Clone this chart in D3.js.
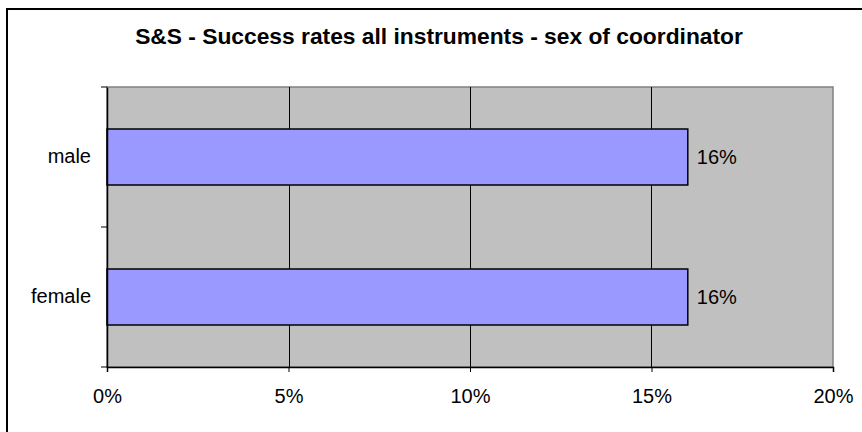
<!DOCTYPE html>
<html>
<head>
<meta charset="utf-8">
<script src="https://cdn.jsdelivr.net/npm/d3@7"></script>
<style>
  html, body { margin: 0; padding: 0; background: #fff; }
  svg { display: block; }
  text { font-family: "Liberation Sans", Arial, sans-serif; fill: #000; }
</style>
</head>
<body>
<svg id="chart" width="862" height="432"></svg>
<script>
const title = "S&S - Success rates all instruments - sex of coordinator";
const categories = ["male", "female"];
const values = [0.16, 0.16];
const valueLabels = ["16%", "16%"];
const xTicks = [0, 0.05, 0.10, 0.15, 0.20];
const xTickLabels = ["0%", "5%", "10%", "15%", "20%"];

const svg = d3.select("#chart");
const plot = { left: 107, top: 87, right: 833, bottom: 367 };

// outer frame (extends past right/bottom edge)
svg.append("rect")
  .attr("x", 7).attr("y", 9).attr("width", 900).attr("height", 500)
  .attr("fill", "#fff").attr("stroke", "#000").attr("stroke-width", 2);

// title
const t = svg.append("text")
  .attr("x", 439).attr("y", 44)
  .attr("text-anchor", "middle")
  .attr("font-size", "22.5px").attr("font-weight", "bold")
  .text(title);
// fit to measured reference width
const tw = t.node().getComputedTextLength();
if (tw > 0) t.attr("font-size", (22.5 * 608 / tw).toFixed(2) + "px");

const x = d3.scaleLinear().domain([0, 0.20]).range([plot.left, plot.right]);
const y = d3.scaleBand().domain(categories).range([plot.top, plot.bottom]).paddingInner(0.6).paddingOuter(0.3);

// plot background
svg.append("rect")
  .attr("x", plot.left).attr("y", plot.top)
  .attr("width", plot.right - plot.left).attr("height", plot.bottom - plot.top)
  .attr("fill", "#C0C0C0").attr("stroke", "#808080").attr("stroke-width", 1.5);

// gridlines
svg.append("g").selectAll("line")
  .data(xTicks.filter(d => d > 0 && d < 0.20))
  .join("line")
  .attr("x1", d => Math.round(x(d)) + 0.5).attr("x2", d => Math.round(x(d)) + 0.5)
  .attr("y1", plot.top).attr("y2", plot.bottom)
  .attr("stroke", "#000").attr("stroke-width", 1);

// bars
svg.append("g").selectAll("rect")
  .data(categories)
  .join("rect")
  .attr("x", x(0))
  .attr("y", d => y(d))
  .attr("width", (d, i) => x(values[i]) - x(0))
  .attr("height", y.bandwidth())
  .attr("fill", "#9999FF").attr("stroke", "#000").attr("stroke-width", 1.5);

// value labels
svg.append("g").selectAll("text")
  .data(categories)
  .join("text")
  .attr("x", (d, i) => x(values[i]) + 9)
  .attr("y", d => y(d) + y.bandwidth() / 2 + 7)
  .attr("font-size", "20px")
  .text((d, i) => valueLabels[i]);

// x axis
const xAxis = d3.axisBottom(x).tickValues(xTicks)
  .tickFormat((d, i) => xTickLabels[i]).tickSize(5).tickPadding(17);
const gx = svg.append("g").attr("transform", `translate(0,${plot.bottom})`).call(xAxis);
gx.select(".domain").attr("stroke", "#000").attr("stroke-width", 1.5);
gx.selectAll(".tick line").attr("stroke", "#000");
gx.selectAll("text").attr("font-size", "20px").attr("font-family", "Liberation Sans, Arial, sans-serif");

// y axis (category) with ticks at band boundaries
const bandStep = (plot.bottom - plot.top) / categories.length;
const yAxis = d3.axisLeft(y).tickSize(0).tickPadding(16);
const gy = svg.append("g").attr("transform", `translate(${plot.left},0)`).call(yAxis);
gy.select(".domain").attr("stroke", "#000").attr("stroke-width", 1.5);
gy.selectAll("text").attr("font-size", "20px").attr("font-family", "Liberation Sans, Arial, sans-serif");
gy.selectAll(".boundTick")
  .data(d3.range(categories.length + 1))
  .join("line")
  .attr("x1", -6).attr("x2", 0)
  .attr("y1", i => plot.top + i * bandStep).attr("y2", i => plot.top + i * bandStep)
  .attr("stroke", "#000");
</script>
</body>
</html>
